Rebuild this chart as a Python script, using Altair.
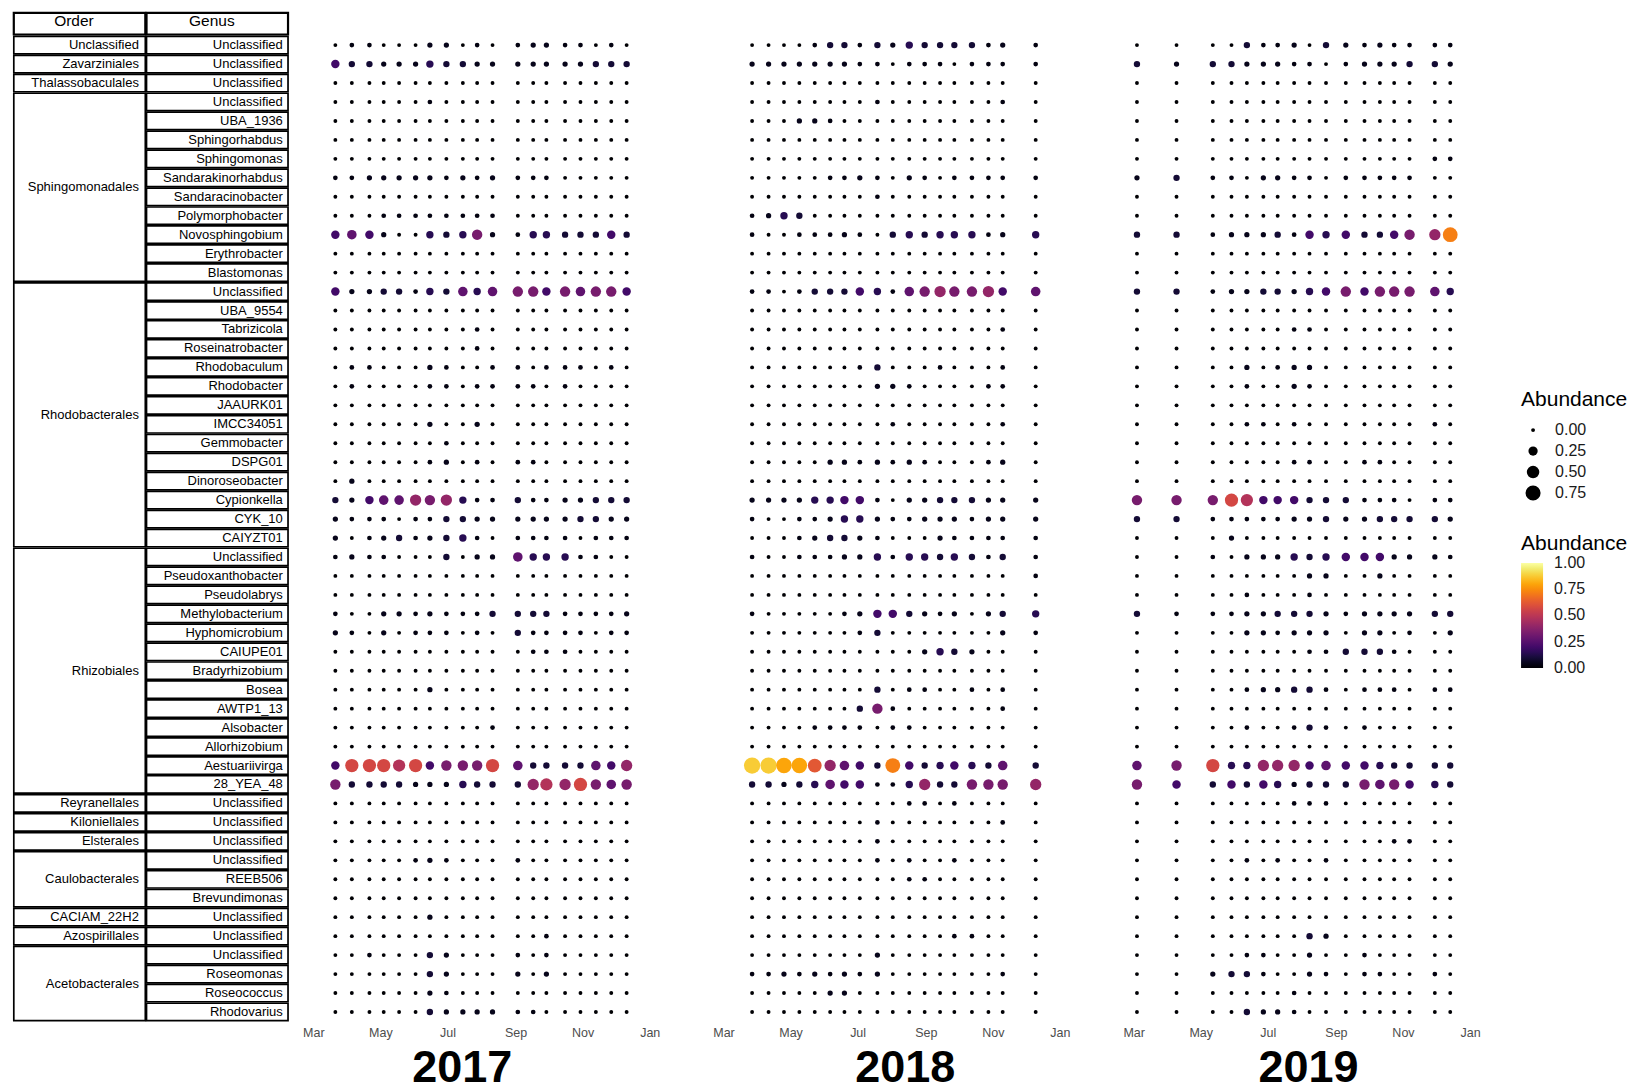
import json
import datetime as dt
import altair as alt
import pandas as pd

FONT = "Liberation Sans"

# ---------------- taxonomy (row order, top to bottom) ----------------
ORDER_GROUPS = [
    ("Unclassified", ["Unclassified"]),
    ("Zavarziniales", ["Unclassified"]),
    ("Thalassobaculales", ["Unclassified"]),
    ("Sphingomonadales", ["Unclassified", "UBA_1936", "Sphingorhabdus", "Sphingomonas",
                          "Sandarakinorhabdus", "Sandaracinobacter", "Polymorphobacter",
                          "Novosphingobium", "Erythrobacter", "Blastomonas"]),
    ("Rhodobacterales", ["Unclassified", "UBA_9554", "Tabrizicola", "Roseinatrobacter",
                         "Rhodobaculum", "Rhodobacter", "JAAURK01", "IMCC34051", "Gemmobacter",
                         "DSPG01", "Dinoroseobacter", "Cypionkella", "CYK_10", "CAIYZT01"]),
    ("Rhizobiales", ["Unclassified", "Pseudoxanthobacter", "Pseudolabrys", "Methylobacterium",
                     "Hyphomicrobium", "CAIUPE01", "Bradyrhizobium", "Bosea", "AWTP1_13",
                     "Alsobacter", "Allorhizobium", "Aestuariivirga", "28_YEA_48"]),
    ("Reyranellales", ["Unclassified"]),
    ("Kiloniellales", ["Unclassified"]),
    ("Elsterales", ["Unclassified"]),
    ("Caulobacterales", ["Unclassified", "REEB506", "Brevundimonas"]),
    ("CACIAM_22H2", ["Unclassified"]),
    ("Azospirillales", ["Unclassified"]),
    ("Acetobacterales", ["Unclassified", "Roseomonas", "Roseococcus", "Rhodovarius"]),
]

# ---------------- sampling dates ----------------
DATES_2017 = ["2017-03-21", "2017-04-05", "2017-04-21", "2017-05-04", "2017-05-18",
              "2017-06-02", "2017-06-15", "2017-06-30", "2017-07-15", "2017-07-28",
              "2017-08-11", "2017-09-03", "2017-09-17", "2017-09-29", "2017-10-16",
              "2017-10-30", "2017-11-13", "2017-11-27", "2017-12-11"]
DATES_2018 = ["2018-03-27", "2018-04-11", "2018-04-25", "2018-05-09", "2018-05-23",
              "2018-06-06", "2018-06-19", "2018-07-03", "2018-07-19", "2018-08-02",
              "2018-08-17", "2018-08-31", "2018-09-14", "2018-09-27", "2018-10-13",
              "2018-10-28", "2018-11-10", "2018-12-10"]
DATES_2019 = ["2019-03-04", "2019-04-09", "2019-05-12", "2019-05-29", "2019-06-12",
              "2019-06-27", "2019-07-10", "2019-07-25", "2019-08-08", "2019-08-23",
              "2019-09-10", "2019-09-27", "2019-10-11", "2019-10-24", "2019-11-07",
              "2019-11-30", "2019-12-14"]

# abundance level codes (size + colour)
LEVELS = {".": 0.0, "1": 0.025, "2": 0.045, "3": 0.09, "4": 0.14, "5": 0.2,
          "6": 0.27, "7": 0.33, "8": 0.4, "9": 0.48, "a": 0.57, "b": 0.62,
          "c": 0.72, "d": 0.8, "e": 0.88}

# one string per row (52 rows); "|" marks gaps between sampling runs
ABUND_2017 = [
    ".11...22.1.|12211.1.", "53322243322|22222333", "...........|........",
    "......1....|........", "...........|........", "...........|........",
    "...........|........", "11222221212|111.....", "...........|........",
    "...11111111|........", "5652..43472|14433353", "...........|........",
    "...........|........", "52233143646|77576775", "...........|........",
    ".........1.|........", ".........1.|........", ".11...21..1|1.111.1.",
    ".1....11.11|11.1....", "...........|........", "......2..2.|........",
    ".......1...|........", "......12.1.|11......", ".2.........|........",
    "32566878411|31122333", "2111.113322|22223322", "2.12312341.|1111.111",
    "1211...3.22|644411..", "...........|........", "...........|........",
    "1..22121113|33311112", "21.2.111.1.|31111.11", "...........|.111....",
    "...........|........", "......2....|........", "...........|........",
    "..........1|........", "...........|........", "5aaa9a5777a|63333658",
    "73333222433|3898a767", "...........|........", "...........|........",
    "...........|........", ".....121...|1.......", "...........|........",
    "...........|........", "......2....|........", "...........|..1.....",
    "..1...32...|1.1.....", "......32...|2.2.....", "......21...|........",
    "......32222|11......",
]
ABUND_2018 = [
    "....1331324333312|1", "222222211.111.111|1", ".................|.",
    "........1.......1|.", "...221...........|.", ".................|.",
    ".................|.", ".....1121.21.1111|1", "........1........|.",
    "1243.............|.", "1..11121.34344412|4", ".................|.",
    ".................|.", "11.13335416787785|6", ".................|.",
    "................1|.", ".................|.", ".......13...1...1|.",
    "........221....11|.", ".................|.", ".........1......1|.",
    ".................|.", ".....2212121...12|.", ".................|.",
    "222244551.2233322|2", "1..11244211222122|2", "...123321...21111|1",
    "1..11122414434313|1", ".................|1", ".................|.",
    "1.....12553212.23|4", ".......13.......2|1", "...........2432..|.",
    ".................|.", "........3.11..1.1|.", ".......371......1|.",
    "....1111.11......|.", ".................|.", "eeddb8653c5345436|3",
    "33234655114833777|8", "..........11.1...|.", "........1.......1|.",
    "........1........|.", "........1.1..1...|.", "..........11.....|.",
    ".................|.", ".................|.", ".............11..|.",
    "........2........|.", "112121212.......1|.", ".....22..........|.",
    ".................|.",
]
ABUND_2019 = [
    "..|..3112.3|21211|11", "32|3322211.|12223|32", "..|........|.....|..",
    "..|........|.....|..", "..|........|.....|..", "..|........|.....|..",
    "..|........|.....|11", "23|11.2211.|11111|..", "..|........|.....|..",
    "..|........|.....|..", "33|12223154|53357|8c", "..|........|.....|..",
    "..|........|.....|..", "33|12233245|75777|64", "..|........|.....|..",
    "..|.....11.|.....|..", "..|........|.....|..", "..|..2.122.|.....|..",
    "..|..1..21.|.....|..", "..|........|.....|..", "..|..11.1..|.....|1.",
    "..|........|.....|..", "..|.....11.|.11..|..", "..|........|.....|..",
    "77|7a955533|3111.|11", "33|11111223|22333|32", "..|.2......|.....|..",
    "..|1.222434|55522|21", "..|......22|..2..|..", "..|..1...1.|.....|..",
    "31|11223332|12222|33", "..|..221222|.22.1|.2", "..|......11|3331.|..",
    "..|........|.....|..", "..|..122331|.111.|11", "..|........|.....|..",
    "..|..1..131|.1...|..", "..|........|.....|..", "67|a4488856|55433|33",
    "75|35354233|37675|43", "..|.....111|.....|..", "..|........|.....|..",
    "..|........|...11|..", "..|..1.1..1|.....|..", "..|........|.....|..",
    "..|........|.....|..", "..|........|.....|..", "..|......32|.....|..",
    "..|..11..2.|.1...|..", "..|2331..21|.11..|1.", "..|.....1..|.....|..",
    "..|..3221..|.....|..",
]

TICK_DAYS = [0, 61, 122, 184, 245, 306]
TICK_LABELS = ["Mar", "May", "Jul", "Sep", "Nov", "Jan"]
YEARS = [2017, 2018, 2019]

# ---------------- build tables ----------------
rows_order, rows_genus = [], []
for order, genera in ORDER_GROUPS:
    for g in genera:
        rows_order.append(order)
        rows_genus.append(g)
NROWS = len(rows_genus)


def decode(code, n):
    s = code.replace("|", "")
    assert len(s) == n, (code, len(s), n)
    return [LEVELS[c] for c in s]


def build(year, dates, codes):
    assert len(codes) == NROWS
    start = dt.date(year, 3, 1)
    days = [(dt.date.fromisoformat(d) - start).days for d in dates]
    recs = []
    for i, code in enumerate(codes):
        for d, v in zip(days, decode(code, len(dates))):
            recs.append({"row": i, "day": d, "Abundance": v, "AbundanceC": v,
                         "Genus": rows_genus[i], "Order": rows_order[i]})
    return pd.DataFrame(recs)


data = {2017: build(2017, DATES_2017, ABUND_2017),
        2018: build(2018, DATES_2018, ABUND_2018),
        2019: build(2019, DATES_2019, ABUND_2019)}

# ---------------- layout constants ----------------
H = 1011
Y_DOMAIN = [-1.729, 51.566]
TABLE_W = 276
PANEL_W = 380
X_DOMAIN = [-9.6, 335.9]
YEAR_TITLE_X = {2017: 159, 2018: 192, 2019: 185}

yscale = alt.Scale(domain=Y_DOMAIN, reverse=True, nice=False, zero=False)

# ---------------- table ----------------
OX0, OX1, GX0, GX1 = 0.8, 132.4, 133.6, 275.2
cells = []
cells.append({"x": OX0, "x2": OX1, "y": -1.70, "y2": -0.56, "w": 2.2})
cells.append({"x": GX0, "x2": GX1, "y": -1.70, "y2": -0.56, "w": 2.2})
labels_r, labels_c = [], []
labels_c.append({"x": 61, "y": -1.25, "label": "Order"})
labels_c.append({"x": 199, "y": -1.25, "label": "Genus"})
r = 0
for order, genera in ORDER_GROUPS:
    first, last = r, r + len(genera) - 1
    cells.append({"x": OX0, "x2": OX1, "y": first - 0.46, "y2": last + 0.46, "w": 1.7})
    labels_r.append({"x": 126, "y": (first + last) / 2, "label": order})
    for g in genera:
        cells.append({"x": GX0, "x2": GX1, "y": r - 0.46, "y2": r + 0.46, "w": 1.7})
        labels_r.append({"x": 270, "y": r, "label": g})
        r += 1

txs = alt.Scale(domain=[0, TABLE_W], nice=False, zero=False)
cell_layer = alt.Chart(pd.DataFrame(cells)).mark_rect(fill="white", stroke="black").encode(
    x=alt.X("x:Q", scale=txs, axis=None),
    x2="x2:Q",
    y=alt.Y("y:Q", scale=yscale, axis=None),
    y2="y2:Q",
    strokeWidth=alt.StrokeWidth("w:Q", scale=None, legend=None),
)
lab_r_layer = alt.Chart(pd.DataFrame(labels_r)).mark_text(
    align="right", baseline="middle", font=FONT, fontSize=13, color="black"
).encode(x=alt.X("x:Q", scale=txs, axis=None), y=alt.Y("y:Q", scale=yscale, axis=None), text="label:N")
lab_c_layer = alt.Chart(pd.DataFrame(labels_c)).mark_text(
    align="center", baseline="middle", font=FONT, fontSize=15.5, color="black"
).encode(x=alt.X("x:Q", scale=txs, axis=None), y=alt.Y("y:Q", scale=yscale, axis=None), text="label:N")

table = alt.layer(cell_layer, lab_r_layer, lab_c_layer).properties(width=TABLE_W, height=H)

# ---------------- panels ----------------
label_expr = f"{json.dumps(TICK_LABELS)}[indexof({json.dumps(TICK_DAYS)}, datum.value)]"

size_legend = alt.Legend(
    title="Abundance", orient="none", legendX=1509, legendY=377, direction="vertical",
    type="symbol", values=[0, 0.25, 0.5, 0.75], format=".2f", symbolType="circle",
    symbolFillColor="black", symbolStrokeColor="black", symbolStrokeWidth=0, symbolOpacity=1,
    symbolOffset=4, titleFont=FONT, titleFontSize=21, titleFontWeight="normal",
    titleColor="black", titlePadding=12, labelFont=FONT, labelFontSize=16,
    labelColor="#1a1a1a", labelOffset=14, rowPadding=5,
)
color_legend = alt.Legend(
    title="Abundance", orient="none", legendX=1509, legendY=521, direction="vertical",
    type="gradient", values=[0, 0.25, 0.5, 0.75, 1.0], format=".2f",
    gradientLength=105, gradientThickness=22, gradientStrokeWidth=0,
    titleFont=FONT, titleFontSize=21, titleFontWeight="normal", titleColor="black",
    titlePadding=9, labelFont=FONT, labelFontSize=16, labelColor="#1a1a1a", labelOffset=11,
    labelOverlap=False,
)

# the colour domain is padded by a hair so the end labels of the gradient sit centred on
# their values (and so the size and colour legends are not merged into one)
SIZE_DOMAIN = [0, 1]
COLOR_DOMAIN = [-0.0008, 1.0008]


def panel(year):
    return alt.Chart(data[year]).mark_circle(opacity=1).encode(
        x=alt.X("day:Q",
                scale=alt.Scale(domain=X_DOMAIN, nice=False, zero=False),
                axis=alt.Axis(values=TICK_DAYS, labelExpr=label_expr, grid=False, domain=False,
                              ticks=False, labelPadding=4, labelFont=FONT, labelFontSize=12.5,
                              labelColor="#4d4d4d", title=str(year), titleFont=FONT,
                              titleFontSize=45, titleFontWeight="bold", titleColor="black",
                              titleX=YEAR_TITLE_X[year], titleY=59, titleAlign="center",
                              titleBaseline="alphabetic", labelFlush=False)),
        y=alt.Y("row:Q", scale=yscale, axis=None),
        size=alt.Size("Abundance:Q",
                      scale=alt.Scale(type="linear", domain=SIZE_DOMAIN, range=[15, 298], zero=False),
                      legend=size_legend),
        color=alt.Color("AbundanceC:Q",
                        scale=alt.Scale(scheme="inferno", domain=COLOR_DOMAIN, nice=False,
                                        zero=False),
                        legend=color_legend),
        tooltip=["Order:N", "Genus:N", "day:Q", "Abundance:Q"],
    ).properties(width=PANEL_W, height=H)


panels = alt.hconcat(*[panel(y) for y in YEARS], spacing=29.4).resolve_scale(
    color="shared", size="shared")

chart = alt.hconcat(table, panels, spacing=12).resolve_scale(
    color="shared", size="shared"
).properties(
    padding={"left": 4, "top": 3, "right": 0, "bottom": 0},
    background="white",
).configure_view(strokeWidth=0, stroke="transparent")

chart.save("out.html", embed_options={"renderer": "svg", "actions": False})
